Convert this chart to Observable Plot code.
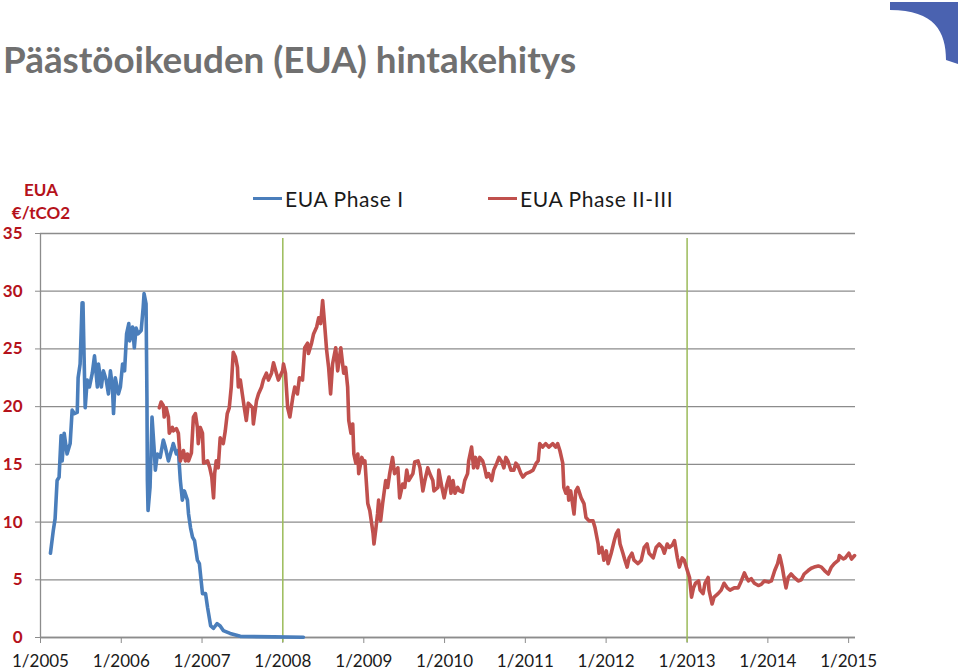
<!DOCTYPE html>
<html>
<head>
<meta charset="utf-8">
<script src="https://cdn.jsdelivr.net/npm/d3@7"></script>
<script src="https://cdn.jsdelivr.net/npm/@observablehq/plot@0.6"></script>
<style>
  html, body { margin: 0; padding: 0; background: #fff; }
  body { width: 959px; height: 672px; position: relative; overflow: hidden; font-family: Lato, "Open Sans", sans-serif; }
  #title { position: absolute; left: 3px; top: 41px; font-size: 36.8px; line-height: 36px; font-weight: bold; color: #707070; white-space: nowrap; }
  #logo { position: absolute; right: 0; top: 0; }
  #ylabel { position: absolute; left: 1px; width: 80px; top: 178px; text-align: center; color: #b5121b; font-weight: bold; font-size: 17px; line-height: 23px; }
  .leg { position: absolute; top: 186px; display: flex; align-items: center; font-size: 21px; letter-spacing: 0.6px; color: #1a1a1a; white-space: nowrap; }
  .leg .sw { width: 29px; height: 3px; margin-right: 3px; }
  #chart { position: absolute; left: 0; top: 0; }
  g[aria-label="y-axis tick label"] { fill: #b5121b; font-weight: bold; }
  g[aria-label="x-axis tick label"] { fill: #1a1a1a; }
</style>
</head>
<body>
<div id="title">Päästöoikeuden (EUA) hintakehitys</div>
<svg id="logo" width="70" height="66" viewBox="0 0 70 66"><path d="M1,2 L69,2 L69,64 L57,60 C57,32 46,10 1,10 Z" fill="#4a62b0"/></svg>
<div id="chart"></div>
<div id="ylabel"></div>
<div id="legend"></div>
<script>
// ---- data ----
const chartTitle = "Päästöoikeuden (EUA) hintakehitys";
const yAxisLabel = ["EUA", "€/tCO2"];
const seriesNames = ["EUA Phase I", "EUA Phase II-III"];
const seriesColors = ["#4a7ebb", "#c0504d"];
const xTickLabels = ["1/2005","1/2006","1/2007","1/2008","1/2009","1/2010","1/2011","1/2012","1/2013","1/2014","1/2015"];
const yTicks = [0, 5, 10, 15, 20, 25, 30, 35];
const phaseStarts = ["2008-01-01", "2013-01-01"];
const xDomain = ["2005-01-01", "2015-02-01"];

const phase1Dates = [
"2005-02-15","2005-02-28","2005-03-08","2005-03-17","2005-03-26","2005-04-04","2005-04-09","2005-04-18","2005-05-01","2005-05-15",
"2005-05-24","2005-06-03","2005-06-16","2005-06-20","2005-06-29","2005-07-08","2005-07-12","2005-07-17","2005-07-22","2005-07-31",
"2005-08-10","2005-08-23","2005-09-02","2005-09-15","2005-09-20","2005-10-03","2005-10-12","2005-10-25","2005-11-04","2005-11-13",
"2005-11-22","2005-11-27","2005-12-05","2005-12-19","2005-12-28","2006-01-07","2006-01-16","2006-01-25","2006-02-04","2006-02-08",
"2006-02-21","2006-03-01","2006-03-09","2006-03-18","2006-04-01","2006-04-10","2006-04-14","2006-04-23","2006-04-27","2006-04-29",
"2006-05-02","2006-05-11","2006-05-20","2006-05-29","2006-06-04","2006-06-13","2006-06-26","2006-07-10","2006-07-19","2006-08-02",
"2006-08-20","2006-08-24","2006-09-07","2006-09-16","2006-09-25","2006-10-04","2006-10-13","2006-10-27","2006-11-01","2006-11-10",
"2006-11-19","2006-11-28","2006-12-11","2006-12-20","2007-01-03","2007-01-17","2007-01-26","2007-02-09","2007-02-22","2007-03-10",
"2007-03-24","2007-04-07","2007-05-08","2007-06-23","2007-11-20","2008-04-03"];
const phase1Values = [
7.3,9.3,10.3,13.6,13.9,17.5,15.3,17.7,15.9,16.8,
19.7,19.4,19.5,22.5,23.7,29.0,29.0,24.3,19.9,22.3,
21.7,22.9,24.4,21.7,23.7,21.7,23.1,22.3,21.1,23.1,
21.7,19.4,22.5,21.1,21.7,23.7,23.1,26.3,27.2,25.7,
26.9,25.1,26.8,26.3,26.6,28.6,29.8,28.9,20.8,13.6,
11.0,13.0,19.1,16.5,14.5,15.9,15.6,17.1,16.5,15.3,
16.5,16.8,15.9,16.2,13.6,11.9,12.7,11.9,10.7,9.5,
8.7,8.4,6.7,6.4,3.8,3.8,2.6,1.0,0.8,1.2,
1.0,0.6,0.35,0.1,0.05,0.02];

const phase2Dates = [
"2006-06-22","2006-06-30","2006-07-10","2006-07-14","2006-07-23","2006-08-02","2006-08-06","2006-08-20","2006-08-24","2006-09-07",
"2006-09-16","2006-09-25","2006-10-09","2006-10-18","2006-10-27","2006-11-01","2006-11-14","2006-11-23","2006-12-02","2006-12-11",
"2006-12-15","2006-12-24","2007-01-03","2007-01-08","2007-01-26","2007-02-05","2007-02-14","2007-02-22","2007-02-27","2007-03-06",
"2007-03-15","2007-03-24","2007-04-07","2007-04-16","2007-04-25","2007-05-04","2007-05-13","2007-05-22","2007-06-01","2007-06-10",
"2007-06-14","2007-06-23","2007-07-02","2007-07-11","2007-07-20","2007-07-29","2007-08-17","2007-08-21","2007-09-04","2007-09-13",
"2007-09-27","2007-10-05","2007-10-19","2007-10-28","2007-11-11","2007-11-20","2007-12-03","2007-12-12","2007-12-31","2008-01-04",
"2008-01-13","2008-01-23","2008-02-02","2008-02-15","2008-02-24","2008-03-07","2008-03-16","2008-03-30","2008-04-09","2008-04-22",
"2008-04-26","2008-05-10","2008-05-19","2008-06-02","2008-06-11","2008-06-20","2008-06-29","2008-07-06","2008-07-17","2008-07-26",
"2008-08-04","2008-08-13","2008-08-27","2008-09-05","2008-09-19","2008-10-02","2008-10-11","2008-10-20","2008-10-25","2008-11-04",
"2008-11-12","2008-11-17","2008-11-26","2008-12-05","2008-12-09","2008-12-23","2009-01-02","2009-01-06","2009-01-19","2009-01-28",
"2009-02-12","2009-02-16","2009-02-25","2009-03-04","2009-03-09","2009-03-18","2009-03-27","2009-04-10","2009-04-19","2009-04-28",
"2009-05-11","2009-05-20","2009-06-04","2009-06-12","2009-06-26","2009-07-05","2009-07-14","2009-07-23","2009-08-11","2009-08-19",
"2009-09-03","2009-09-12","2009-09-25","2009-10-04","2009-10-17","2009-10-26","2009-11-09","2009-11-14","2009-12-02","2009-12-06",
"2009-12-20","2009-12-30","2010-01-12","2010-01-21","2010-01-30","2010-02-08","2010-02-17","2010-03-01","2010-03-10","2010-03-23",
"2010-04-02","2010-04-15","2010-04-20","2010-05-03","2010-05-12","2010-05-21","2010-05-30","2010-06-09","2010-06-22","2010-07-01",
"2010-07-10","2010-07-19","2010-08-02","2010-08-11","2010-08-25","2010-09-04","2010-09-17","2010-09-26","2010-10-05","2010-10-14",
"2010-10-28","2010-11-10","2010-11-19","2010-11-28","2010-12-12","2010-12-21","2011-01-04","2011-01-18","2011-02-05","2011-02-19",
"2011-02-28","2011-03-07","2011-03-20","2011-04-03","2011-04-17","2011-05-05","2011-05-18","2011-05-27","2011-06-06","2011-06-19",
"2011-06-24","2011-07-03","2011-07-12","2011-07-16","2011-07-25","2011-08-09","2011-08-17","2011-08-26","2011-09-10","2011-09-23",
"2011-10-02","2011-10-16","2011-11-03","2011-11-12","2011-11-26","2011-11-30","2011-12-13","2011-12-22","2012-01-02","2012-01-10",
"2012-01-24","2012-02-07","2012-02-16","2012-02-25","2012-03-04","2012-03-17","2012-03-26","2012-04-05","2012-04-14","2012-04-27",
"2012-05-06","2012-05-24","2012-06-08","2012-06-21","2012-07-04","2012-07-13","2012-08-01","2012-08-14","2012-08-28","2012-09-11",
"2012-09-20","2012-10-03","2012-10-12","2012-10-26","2012-11-05","2012-11-18","2012-11-27","2012-12-10","2012-12-19","2013-01-02",
"2013-01-12","2013-01-21","2013-01-30","2013-02-08","2013-02-22","2013-03-01","2013-03-14","2013-03-23","2013-04-06","2013-04-10",
"2013-04-24","2013-05-03","2013-05-21","2013-06-04","2013-06-17","2013-07-01","2013-07-14","2013-08-02","2013-08-20","2013-09-03",
"2013-09-17","2013-09-26","2013-10-05","2013-10-18","2013-11-01","2013-11-19","2013-12-02","2013-12-16","2014-01-04","2014-01-17",
"2014-02-01","2014-02-14","2014-02-23","2014-02-27","2014-03-07","2014-03-15","2014-03-24","2014-04-03","2014-04-16","2014-04-30",
"2014-05-18","2014-06-01","2014-06-14","2014-07-02","2014-07-16","2014-07-29","2014-08-17","2014-08-31","2014-09-14","2014-10-01",
"2014-10-15","2014-10-28","2014-11-16","2014-11-20","2014-12-08","2014-12-17","2015-01-02","2015-01-14","2015-01-28"];
const phase2Values = [
19.9,20.4,20.1,19.1,19.9,19.1,17.7,18.2,17.9,18.1,
17.7,15.3,16.2,15.3,15.9,15.3,16.0,19.1,19.4,18.2,
16.8,18.2,17.7,15.1,15.3,14.7,13.9,12.1,14.2,15.3,
14.7,17.3,16.8,17.9,19.4,19.9,21.7,24.7,24.3,23.4,
21.7,22.3,21.1,19.9,18.8,20.3,19.9,18.5,20.5,21.1,
21.7,22.3,22.9,22.3,22.9,23.8,22.9,22.3,23.1,23.7,
22.9,19.9,19.1,20.8,21.7,21.1,22.5,22.3,25.1,25.5,
24.6,25.5,26.3,26.9,27.7,27.2,29.2,27.6,24.9,23.4,
21.1,23.7,25.1,23.1,25.1,22.9,23.4,21.7,18.8,17.7,
18.5,15.9,15.1,15.9,14.2,15.6,15.1,15.3,11.6,11.0,
9.0,8.1,9.5,10.7,11.9,10.1,11.6,13.6,13.0,14.2,
15.6,14.2,14.7,12.1,13.3,13.0,14.5,13.6,14.2,15.2,
15.3,14.7,12.7,13.6,14.7,14.2,13.6,12.7,13.0,14.5,
13.0,12.1,13.3,13.9,12.5,13.6,12.5,13.0,12.7,12.6,
13.6,14.2,15.3,16.5,14.7,15.6,14.7,15.6,15.3,14.7,
13.9,14.2,13.6,14.5,15.1,15.6,15.2,14.7,15.6,15.3,
14.5,14.5,15.1,14.9,14.2,13.9,14.2,14.3,14.5,15.1,
15.3,16.8,16.5,16.8,16.5,16.8,16.5,16.8,16.2,15.1,
13.0,12.5,13.0,11.9,12.7,10.7,12.7,13.0,12.1,11.6,
10.4,10.1,10.1,9.5,8.1,7.3,7.8,6.7,7.5,6.4,
7.3,8.4,9.0,9.3,8.1,7.3,6.7,6.1,6.9,7.3,
6.7,6.4,6.7,7.8,8.1,7.3,6.9,7.8,8.1,7.8,
7.3,8.1,7.8,8.0,8.4,6.9,6.1,6.9,6.7,5.8,
5.2,3.5,4.3,4.7,4.9,4.1,3.8,4.7,5.2,4.1,
2.9,3.5,3.8,4.1,4.7,4.3,4.1,4.3,4.3,4.9,
5.6,5.2,4.9,5.1,4.7,4.5,4.6,4.9,4.8,4.9,
5.8,6.4,7.1,6.8,6.1,5.2,4.3,5.2,5.5,5.2,
4.9,5.0,5.5,5.8,6.0,6.1,6.2,6.1,5.8,5.5,
6.1,6.4,6.7,7.1,6.8,6.9,7.3,6.8,7.1];

// ---- build tables ----
const toRows = (dates, values) => dates.map((d, i) => ({date: new Date(d), value: values[i]})).filter(r => r.value != null);
const phase1 = toRows(phase1Dates, phase1Values);
const phase2 = toRows(phase2Dates, phase2Values);
const xTickDates = xTickLabels.map(s => { const [m, y] = s.split("/"); return new Date(Date.UTC(+y, +m - 1, 1)); });
const phaseRules = phaseStarts.map(d => new Date(d));

// ---- html text ----
document.getElementById("ylabel").innerHTML = yAxisLabel.join("<br>");
const legend = document.getElementById("legend");
const legendLefts = [253, 488];
seriesNames.forEach((name, i) => {
  const item = document.createElement("div");
  item.className = "leg";
  item.style.left = legendLefts[i] + "px";
  const sw = document.createElement("span");
  sw.className = "sw";
  sw.style.background = seriesColors[i];
  const t = document.createElement("span");
  t.textContent = name;
  item.append(sw, t);
  legend.append(item);
});

// ---- chart ----
const chart = Plot.plot({
  width: 959,
  height: 672,
  marginTop: 233,
  marginBottom: 35,
  marginLeft: 40,
  marginRight: 104,
  style: {fontFamily: "Lato, 'Open Sans', sans-serif", fontSize: "17px", background: "transparent"},
  x: {type: "utc", domain: xDomain.map(d => new Date(d)), label: null},
  y: {domain: [0, 35], label: null},
  marks: [
    Plot.gridY(yTicks, {stroke: "#8c8c8c", strokeOpacity: 1, strokeWidth: 1.3}),
    Plot.ruleX([new Date(xDomain[0])], {stroke: "#8c8c8c", strokeWidth: 1.3}),
    Plot.ruleY([0], {stroke: "#8c8c8c", strokeWidth: 1.3}),
    Plot.axisX({ticks: xTickDates, tickFormat: d => `${d.getUTCMonth() + 1}/${d.getUTCFullYear()}`, tickSize: 6, tickPadding: 11, stroke: "#8c8c8c", label: null}),
    Plot.axisY({ticks: yTicks, tickSize: 5, tickPadding: 13, stroke: "#8c8c8c", label: null, fontWeight: "bold"}),
    Plot.ruleX(phaseRules, {stroke: "#9bbb59", strokeWidth: 1.5, insetTop: 5, insetBottom: -5}),
    Plot.line(phase1, {x: "date", y: "value", stroke: seriesColors[0], strokeWidth: 3.6, strokeLinejoin: "round"}),
    Plot.line(phase2, {x: "date", y: "value", stroke: seriesColors[1], strokeWidth: 3.6, strokeLinejoin: "round"})
  ]
});
document.getElementById("chart").append(chart);
</script>
</body>
</html>
